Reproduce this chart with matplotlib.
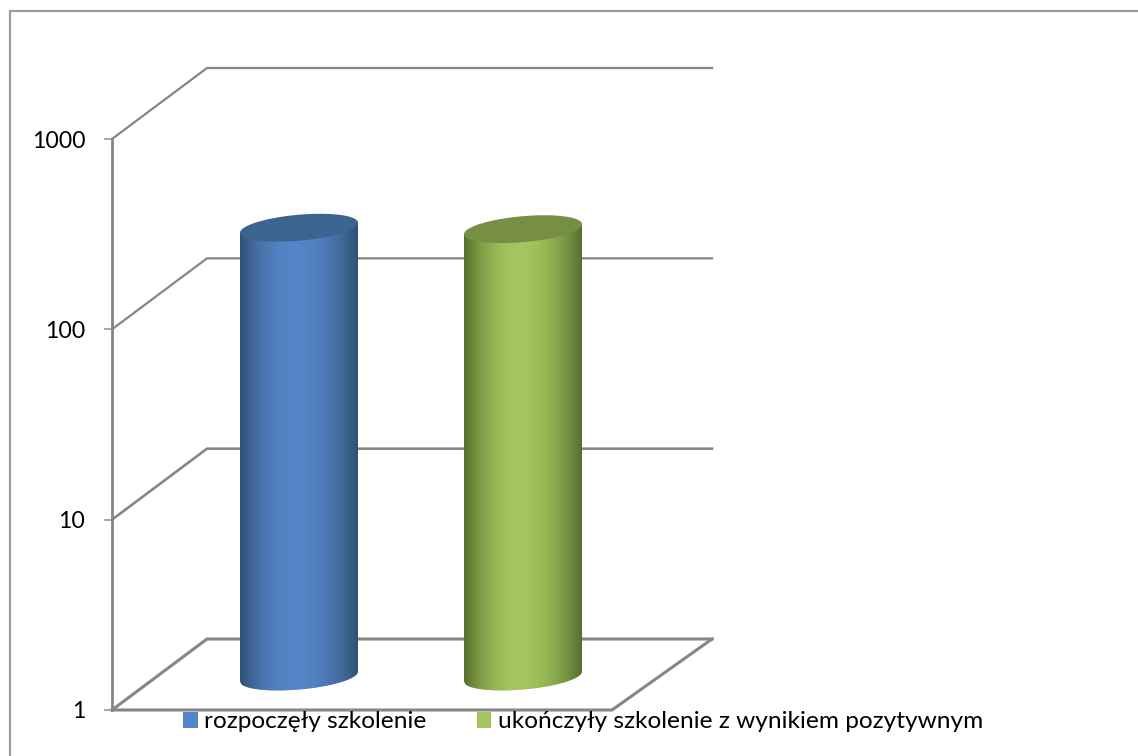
#
# Log scale cylinder chart drawn on a flat axes
#
import numpy as np
import matplotlib
matplotlib.use('Agg')
import matplotlib.pyplot as plt
from matplotlib.colors import to_rgb
from matplotlib.patches import Patch, Polygon
from matplotlib.transforms import IdentityTransform

W, H = 1138, 756

series = ['rozpoczęły szkolenie', 'ukończyły szkolenie z wynikiem pozytywnym']
values = [228, 224]
positions = [187, 411]
y_ticks = [1, 10, 100, 1000]

main_colors = ['#5585C8', '#A3C55F']
edge_colors = ['#2F5072', '#566E2C']
top_colors = ['#3C6490', '#768F44']
grid_widths = [2.2, 1.9, 1.6, 1.6]
GREY = '#868686'

plt.rcParams['font.family'] = ['Lato', 'DejaVu Sans']

fig = plt.figure(figsize=(W / 100, H / 100), dpi=100)
fig.patch.set_facecolor('white')
ax = fig.add_axes([112 / W, (H - 710) / H, 500 / W, 571 / H])
ax.set_yscale('log')
ax.set_ylim(1, 1000)
ax.set_xlim(0, 500)
ax.patch.set_visible(False)
for s in ax.spines.values():
    s.set_visible(False)
ax.spines['left'].set_visible(True)
ax.spines['left'].set_color(GREY)
ax.spines['left'].set_linewidth(2.0)
ax.set_xticks([])
ax.set_yticks(y_ticks)
ax.set_yticklabels([str(v) for v in y_ticks])
ax.minorticks_off()
ax.tick_params(axis='y', length=5.8, width=1.3, color='#A0A0A0', pad=13.5,
               labelsize=16.6, labelcolor='black')

fig.canvas.draw()
ident = IdentityTransform()
DX, DY = 95, 71

# border of the chart area
ax.plot([10, 10, W], [0, H - 11, H - 11], color='#9C9C9C', lw=1.6,
        transform=ident, clip_on=False, zorder=1)

# walls and floor
for v, lw in zip(y_ticks, grid_widths):
    x0, y0 = ax.transData.transform((0, v))
    ax.plot([x0, x0 + DX, 712], [y0, y0 + DY, y0 + DY], color=GREY, lw=lw,
            transform=ident, clip_on=False, zorder=1, solid_joinstyle='miter')
x0, y0 = ax.transData.transform((0, 1))
ax.plot([x0, 612, 712], [y0, y0, y0 + DY], color=GREY, lw=2.2,
        transform=ident, clip_on=False, zorder=1, solid_joinstyle='miter')

# cylinders
half_w, half_h = 59, 13
shear = 5 / 59
for i, val in enumerate(values):
    xc, y_low = ax.transData.transform((positions[i], 1))
    _, y_high = ax.transData.transform((positions[i], val))
    y_low += 33.5
    y_high += 33.5

    # body, dark at the rims and bright a little left of the middle
    main, edge = np.array(to_rgb(main_colors[i])), np.array(to_rgb(edge_colors[i]))
    strips = np.linspace(-half_w, half_w, 119)
    for a, b in zip(strips[:-1], strips[1:]):
        mid = (a + b) / 2
        f = abs(mid + 5) / (half_w - 5 if mid < -5 else half_w + 5)
        col = main + (edge - main) * f ** 2.0
        xs = np.array([a, min(b + 0.6, half_w)])
        low = -half_h * np.sqrt(1 - (xs / half_w) ** 2) + xs * shear
        high = xs * shear
        pts = [(xc + xs[0], y_low + low[0]), (xc + xs[1], y_low + low[1]),
               (xc + xs[1], y_high + high[1]), (xc + xs[0], y_high + high[0])]
        ax.add_patch(Polygon(pts, closed=True, facecolor=col, edgecolor='none',
                             transform=ident, clip_on=False, zorder=3))

    # top
    t = np.linspace(0, 2 * np.pi, 100)
    ex = half_w * np.cos(t)
    ey = half_h * np.sin(t) + ex * shear
    ax.add_patch(Polygon(np.column_stack([xc + ex, y_high + ey]), closed=True,
                         facecolor=top_colors[i], edgecolor='none',
                         transform=ident, clip_on=False, zorder=4))

handles = [Patch(facecolor=c, edgecolor='none') for c in main_colors]
fig.legend(handles, series, loc='center left',
           bbox_to_anchor=(183 / W, (H - 722) / H), ncol=2, frameon=False,
           fontsize=17.6, handlelength=0.61, handleheight=0.6, handletextpad=0.25,
           columnspacing=2.05, borderpad=0, borderaxespad=0, labelcolor='black')

fig.savefig('out.png', dpi=100)
